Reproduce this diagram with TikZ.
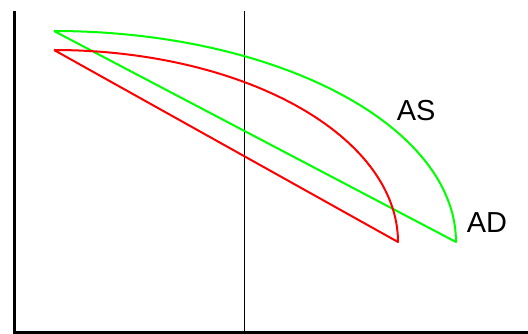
\documentclass[tikz,border=0pt]{standalone}
\usepackage{fontspec}
\setmainfont{Liberation Sans}
\begin{document}
\begin{tikzpicture}[x=0.75pt,y=-0.75pt,
  axis/.style={black,line width=2.25pt},
  guide/.style={black,line width=0.75pt},
  redloop/.style={draw=red,line width=1.5pt,line join=round},
  greenloop/.style={draw=green,line width=1.5pt,line join=round},
  lbl/.style={inner sep=0pt,anchor=base west,font=\fontsize{21.7pt}{26pt}\selectfont}]
\useasboundingbox (0,0) rectangle (528,334);
% axes
\coordinate (ytop) at (14,11);
\coordinate (origin) at (14,332.5);
\coordinate (xend) at (530,332.5);
\draw[axis] (ytop) -- (origin) -- (xend);
% vertical guide
\coordinate (vtop) at (244,11);
\coordinate (vbot) at (244,332);
\draw[guide] (vtop) -- (vbot);
% green loop
\coordinate (gs) at (54,31);
\coordinate (ge) at (456,242);
\draw[greenloop] plot[domain=-90:0,samples=80,smooth] ({54+402*cos(\x)},{242+211*sin(\x)}) -- (gs);
% red loop
\coordinate (rs) at (54,50);
\coordinate (re) at (398,242);
\draw[redloop] plot[domain=-90:0,samples=80,smooth] ({54+344*cos(\x)},{242+192*sin(\x)}) -- (rs);
% labels
\node[lbl] (as) at (396.5,120.7) {AS};
\node[lbl] (ad) at (466.5,232.3) {AD};
\end{tikzpicture}
\end{document}
